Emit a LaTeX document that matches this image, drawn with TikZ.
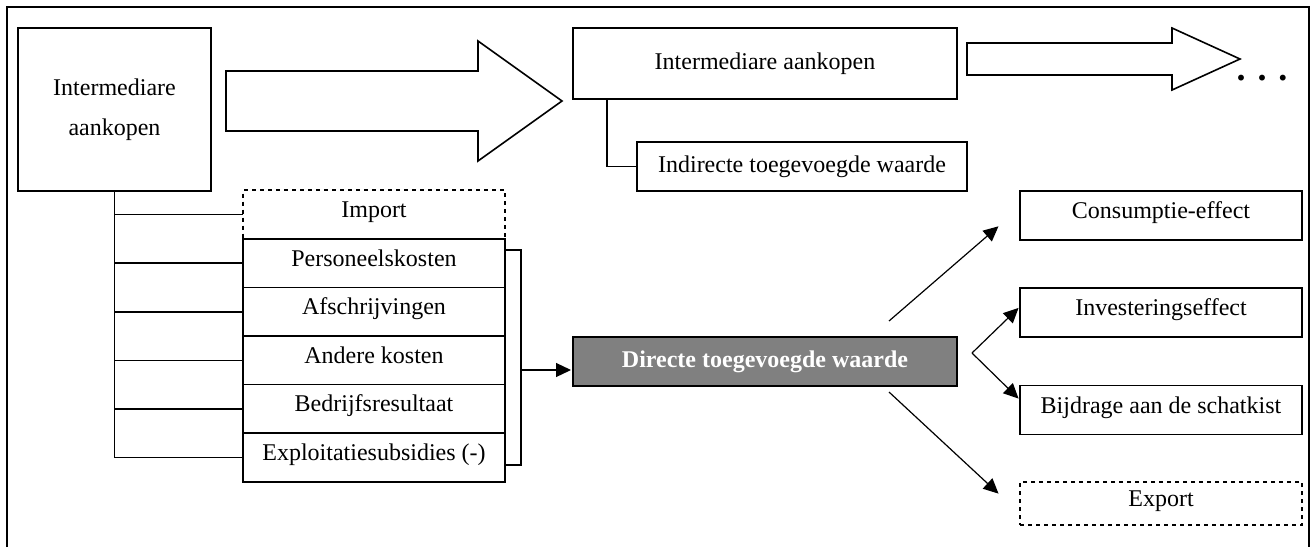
\documentclass[tikz,border=0pt]{standalone}
\usepackage{fontspec}
\setmainfont{Liberation Serif}
\usetikzlibrary{arrows.meta,positioning}

\begin{document}
\begin{tikzpicture}[
  x=0.5pt, y=-0.5pt,
  font=\fontsize{12}{14}\selectfont,
  box/.style={draw,line width=0.8pt,outer sep=0pt,inner sep=2pt,align=center},
  row/.style={box,minimum width=131pt,minimum height=24.3pt,text height=8pt,text depth=5pt},
  effect/.style={box,minimum width=141pt,minimum height=24.5pt,text height=8pt,text depth=5pt},
  fat/.style={draw,line width=0.8pt,line join=miter},
  line/.style={draw,line width=0.8pt},
  arrow/.style={-{Triangle[length=7.5pt,width=7pt]},line width=0.6pt,shorten >=1pt}
]
\useasboundingbox (0,0) rectangle (1312,547);
\draw[line width=1pt] (7,547) -- (7,7) -- (1309,7) -- (1309,547);

% purchases and the indirect chain
\node[box,minimum width=96.5pt,minimum height=81.5pt,font=\fontsize{12}{20}\selectfont] (lbox) at (114.5,109.5) {Intermediare\\aankopen};
\node[box,minimum width=192pt,minimum height=35.5pt] (topbox) at (765,63.5) {Intermediare aankopen};
\node[box,minimum width=165pt,minimum height=24.5pt] (indirect) at (802,166.5) {Indirecte toegevoegde waarde};
\draw[fat] (226,71) -- (478,71) -- (478,41) -- (562,101) -- (478,161) -- (478,131) -- (226,131) -- cycle;
\draw[fat] (967,43) -- (1172,43) -- (1172,28) -- (1240,59) -- (1172,90) -- (1172,75) -- (967,75) -- cycle;
\node[anchor=base,font=\fontsize{18}{18}\selectfont\bfseries] (dots) at (1262,80) {. . .};
\draw[line] ([xshift=17pt]topbox.south west) |- (indirect.west);

% cost components
\node[row,dashed,dash pattern=on 2pt off 2pt] (import) at (374,214.5) {Import};
\node[row,below=0pt of import] (pers) {Personeelskosten};
\node[row,below=0pt of pers] (afschr) {Afschrijvingen};
\node[row,below=0pt of afschr] (andere) {Andere kosten};
\node[row,below=0pt of andere] (bedrijf) {Bedrijfsresultaat};
\node[row,below=0pt of bedrijf] (expl) {Exploitatiesubsidies (-)};
\draw[line] (lbox.south) -- (lbox.south |- expl.west);
\foreach \r in {import,pers,afschr,andere,bedrijf,expl}
  \draw[line] (lbox.south |- \r.west) -- (\r.west);
\draw[line] ([yshift=-5.5pt]pers.north east) -| ([xshift=8pt,yshift=8.5pt]expl.south east) -- ([yshift=8.5pt]expl.south east);

% direct value added and its effects
\node[box,fill=black!50,text=white,font=\fontsize{12}{14}\selectfont\bfseries,minimum width=192pt,minimum height=24.5pt] (direct) at (765,361.5) {Directe toegevoegde waarde};
\coordinate (brk) at (521,370);
\draw[arrow] (brk) -- (direct.west |- brk);

\node[effect] (cons) at (1161,215.5) {Consumptie-effect};
\node[effect] (inv) at (1161,312.5) {Investeringseffect};
\node[effect] (bij) at (1161,410) {Bijdrage aan de schatkist};
\node[effect,minimum height=21.5pt,dashed,dash pattern=on 2pt off 2pt] (export) at (1161,503.5) {Export};

\coordinate (fork) at (972,353);
\draw[arrow] ([xshift=-34pt,yshift=8pt]direct.north east) -- ([xshift=-10pt,yshift=7.5pt]cons.south west);
\draw[arrow] (fork) -- ([yshift=3pt]inv.west);
\draw[arrow] (fork) -- ([yshift=5pt]bij.west);
\draw[arrow] ([xshift=-34pt,yshift=-3pt]direct.south east) -- ([xshift=-10pt,yshift=-6.5pt]export.north west);
\end{tikzpicture}
\end{document}
